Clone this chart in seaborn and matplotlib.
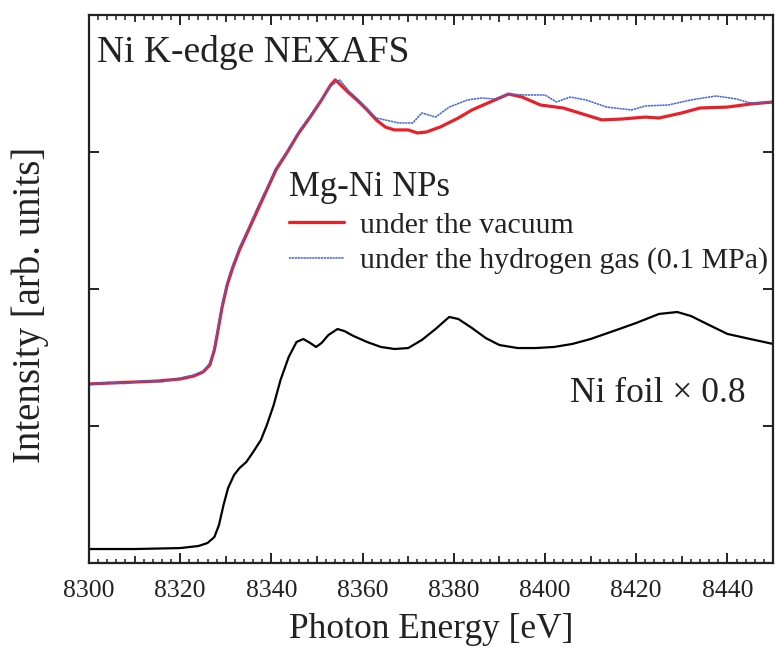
import numpy as np
import pandas as pd
import matplotlib
matplotlib.use("Agg")
import matplotlib.pyplot as plt
import seaborn as sns
from matplotlib.ticker import FixedLocator, FuncFormatter, NullLocator

# ---------------- data ----------------
vac_energy = [8300, 8305, 8310, 8315, 8320, 8323, 8325, 8326.5, 8327.5, 8328.3,
              8329.2, 8330.3, 8331.5, 8333, 8335, 8337, 8339, 8341, 8343.5, 8346,
              8348.5, 8351, 8353, 8354, 8355, 8357, 8359, 8361, 8363, 8365,
              8367, 8370, 8372, 8374, 8377, 8381, 8384, 8388, 8392, 8395,
              8399, 8404, 8409, 8412.5, 8417, 8422, 8425, 8430, 8434, 8440,
              8445, 8450]
vac_int = [1.307, 1.314, 1.321, 1.328, 1.343, 1.365, 1.394, 1.445, 1.555, 1.701,
           1.869, 2.029, 2.153, 2.285, 2.431, 2.577, 2.723, 2.869, 3.000, 3.139,
           3.255, 3.380, 3.489, 3.526, 3.496, 3.431, 3.372, 3.307, 3.234, 3.182,
           3.161, 3.161, 3.139, 3.146, 3.182, 3.248, 3.307, 3.365, 3.423, 3.401,
           3.343, 3.321, 3.270, 3.234, 3.241, 3.255, 3.248, 3.285, 3.321, 3.328,
           3.350, 3.365]

h2_energy = [8300, 8304, 8308, 8312, 8316, 8320, 8323, 8325, 8326.5, 8327.5,
             8328.3, 8329.2, 8330.3, 8331.5, 8333, 8335, 8337, 8339, 8341, 8343.5,
             8346, 8348.5, 8351, 8353, 8355, 8357, 8359, 8361, 8363, 8366,
             8368, 8371, 8373, 8376, 8379, 8383, 8386, 8389, 8392, 8396,
             8400, 8402.5, 8405.5, 8409, 8413.5, 8419, 8422, 8427, 8432, 8437.5,
             8442, 8445, 8450]
h2_int = [1.300, 1.318, 1.310, 1.330, 1.322, 1.350, 1.372, 1.400, 1.460, 1.575,
          1.720, 1.890, 2.050, 2.175, 2.305, 2.450, 2.600, 2.740, 2.885, 3.010,
          3.150, 3.265, 3.385, 3.480, 3.526, 3.445, 3.385, 3.318, 3.248, 3.226,
          3.212, 3.212, 3.285, 3.255, 3.328, 3.380, 3.394, 3.387, 3.423, 3.416,
          3.416, 3.365, 3.401, 3.380, 3.328, 3.307, 3.336, 3.343, 3.380, 3.409,
          3.387, 3.358, 3.365]

foil_energy = [8300, 8310, 8320, 8324, 8326, 8327.5, 8328.5, 8329.5, 8330.5, 8331.8,
               8333, 8334.5, 8336, 8337.7, 8339, 8340.5, 8342, 8343.8, 8345.5, 8347,
               8348.5, 8349.8, 8351, 8352.5, 8354.5, 8356, 8358, 8361, 8364, 8367,
               8370, 8373, 8376, 8379, 8381, 8384, 8387, 8390, 8394, 8398,
               8402, 8406, 8410, 8415, 8420, 8425, 8429, 8432, 8436, 8440,
               8445, 8450]
foil_int = [0.102, 0.102, 0.109, 0.124, 0.146, 0.190, 0.277, 0.423, 0.547, 0.642,
            0.693, 0.737, 0.810, 0.898, 1.007, 1.153, 1.336, 1.504, 1.613, 1.635,
            1.606, 1.577, 1.606, 1.664, 1.708, 1.693, 1.657, 1.613, 1.577, 1.562,
            1.569, 1.628, 1.708, 1.796, 1.781, 1.715, 1.642, 1.591, 1.569, 1.569,
            1.577, 1.599, 1.635, 1.693, 1.752, 1.818, 1.832, 1.803, 1.737, 1.672,
            1.635, 1.599]

x_label_values = [8300, 8320, 8340, 8360, 8380, 8400, 8420, 8440]
y_tick_values = [1, 2, 3]

# ---------------- style ----------------
sns.set_theme(style="ticks")
plt.rcParams["font.family"] = ["Liberation Serif", "DejaVu Serif"]

fig = plt.figure(figsize=(7.75, 6.48), dpi=100)
ax = fig.add_axes([89 / 775, 1 - 563 / 648, 684 / 775, 548 / 648])
ax.set_axisbelow(False)

df_vac = pd.DataFrame({"energy": vac_energy, "intensity": vac_int})
df_h2 = pd.DataFrame({"energy": h2_energy, "intensity": h2_int})
df_foil = pd.DataFrame({"energy": foil_energy, "intensity": foil_int})

sns.lineplot(data=df_foil, x="energy", y="intensity", ax=ax, color="black",
             lw=1.6, sort=False, estimator=None)
sns.lineplot(data=df_vac, x="energy", y="intensity", ax=ax, color="#e8202a",
             lw=2.3, sort=False, estimator=None)
sns.lineplot(data=df_h2, x="energy", y="intensity", ax=ax, color="#4064d8",
             lw=1.1, sort=False, estimator=None, linestyle=(0, (1.5, 0.4)))

ax.set_xlim(8300, 8450)
ax.set_ylim(0, 4)

# x labels through the axis; tick marks drawn as axis-anchored segments
ax.xaxis.set_major_locator(FixedLocator(x_label_values))
ax.xaxis.set_minor_locator(NullLocator())
ax.tick_params(axis="x", which="major", length=0, labelsize=18.5, pad=12,
               colors="#222222", top=False, bottom=True)
ax.yaxis.set_major_locator(FixedLocator(y_tick_values))
ax.yaxis.set_major_formatter(FuncFormatter(lambda v, p: ""))
ax.tick_params(axis="y", which="major", direction="in", length=7, width=1.4,
               left=True, right=True, colors="#222222")

xt = ax.get_xaxis_transform()
ax_h_px = 548.0
tick_sets = [
    (list(range(8302, 8450, 2)), 4.5, 1.1),          # minor every 2 eV
    ([v for v in range(8310, 8451, 10) if v % 20], 7.0, 1.3),   # every 10 eV
    (list(range(8320, 8450, 20)), 10.0, 1.4),       # labelled every 20 eV
]
for pos, length_px, lw in tick_sets:
    pos = [p for p in pos if p % 10 or length_px > 4.5]
    frac = length_px / ax_h_px
    ax.vlines(pos, 0, frac, transform=xt, colors="#222222", lw=lw, clip_on=False)
    ax.vlines(pos, 1 - frac, 1, transform=xt, colors="#222222", lw=lw, clip_on=False)

for s in ax.spines.values():
    s.set_linewidth(1.6)
    s.set_color("#222222")

ax.set_xlabel("Photon Energy [eV]", fontsize=25.5, va="center", color="#222222")
ax.xaxis.set_label_coords(0.5, -0.122)
ax.set_ylabel("Intensity [arb. units]", fontsize=28, va="center", color="#222222")
ax.yaxis.set_label_coords(-0.086, 0.471)

ax.text(0.011, 0.915, "Ni K-edge NEXAFS", transform=ax.transAxes, fontsize=27,
        ha="left", va="baseline", color="#222222")
ax.text(0.703, 0.310, "Ni foil × 0.8", transform=ax.transAxes, fontsize=25.5,
        ha="left", va="center", color="#222222")

lines = ax.get_lines()
leg = ax.legend([lines[1], lines[2]],
                ["under the vacuum", "under the hydrogen gas (0.1 MPa)"],
                title="Mg-Ni NPs", title_fontsize=25, fontsize=21.5,
                loc="upper left", bbox_to_anchor=(0.292, 0.716),
                frameon=False, borderpad=0, borderaxespad=0, labelspacing=0.28,
                handlelength=1.85, handletextpad=0.55, alignment="left")
for t in leg.get_texts():
    t.set_color("#222222")
leg.get_title().set_color("#222222")

fig.savefig("out.png", dpi=100, facecolor="white")
